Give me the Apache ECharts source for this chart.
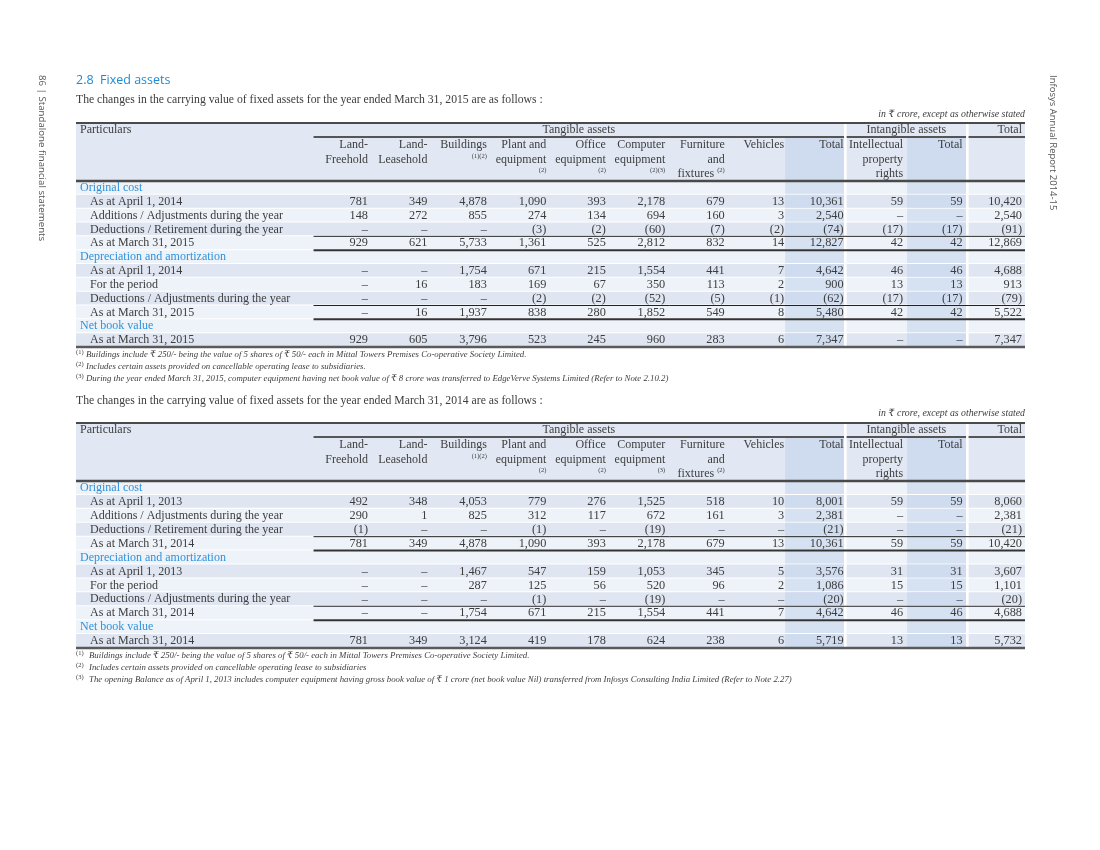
<!DOCTYPE html>
<html><head><meta charset="utf-8">
<script src="https://cdn.jsdelivr.net/npm/echarts@6.0.0/dist/echarts.min.js"></script>
<style>html,body{margin:0;padding:0;background:#fff}#c{width:1100px;height:850px}</style>
</head><body><div id="c"></div>
<script>
// ---------------- DATA ----------------
const colKeys = ['landFree','landLease','buildings','plant','office','computer','furniture','vehicles','tangTotal','ipr','intTotal','grandTotal'];
const groupLabels = ['Tangible assets','Intangible assets','Total'];
const groupSpans = [[0,8],[9,10],[11,11]];
const headers2015 = ['Land-\nFreehold','Land-\nLeasehold','Buildings\n{sup|(1)(2)}','Plant and\nequipment\n{sup|(2)}','Office\nequipment\n{sup|(2)}','Computer\nequipment\n{sup|(2)(3)}','Furniture\nand\nfixtures {sup|(2)}','Vehicles','Total','Intellectual\nproperty\nrights','Total',''];
const headers2014 = ['Land-\nFreehold','Land-\nLeasehold','Buildings\n{sup|(1)(2)}','Plant and\nequipment\n{sup|(2)}','Office\nequipment\n{sup|(2)}','Computer\nequipment\n{sup|(3)}','Furniture\nand\nfixtures {sup|(2)}','Vehicles','Total','Intellectual\nproperty\nrights','Total',''];
const rowKinds = ['sec','item','item','item','total','sec','item','item','item','total','sec','item'];
const rowLabels2015 = ['Original cost','As at April 1, 2014','Additions / Adjustments during the year','Deductions / Retirement during the year','As at March 31, 2015','Depreciation and amortization','As at April 1, 2014','For the period','Deductions / Adjustments during the year','As at March 31, 2015','Net book value','As at March 31, 2015'];
const rowLabels2014 = ['Original cost','As at April 1, 2013','Additions / Adjustments during the year','Deductions / Retirement during the year','As at March 31, 2014','Depreciation and amortization','As at April 1, 2013','For the period','Deductions / Adjustments during the year','As at March 31, 2014','Net book value','As at March 31, 2014'];

// FY 2015 (null = "–", negative = shown in brackets)
const costOpen2015   = [781, 349, 4878, 1090, 393, 2178, 679, 13, 10361, 59, 59, 10420];
const costAdd2015    = [148, 272, 855, 274, 134, 694, 160, 3, 2540, null, null, 2540];
const costDed2015    = [null, null, null, -3, -2, -60, -7, -2, -74, -17, -17, -91];
const costClose2015  = [929, 621, 5733, 1361, 525, 2812, 832, 14, 12827, 42, 42, 12869];
const depOpen2015    = [null, null, 1754, 671, 215, 1554, 441, 7, 4642, 46, 46, 4688];
const depPeriod2015  = [null, 16, 183, 169, 67, 350, 113, 2, 900, 13, 13, 913];
const depDed2015     = [null, null, null, -2, -2, -52, -5, -1, -62, -17, -17, -79];
const depClose2015   = [null, 16, 1937, 838, 280, 1852, 549, 8, 5480, 42, 42, 5522];
const netBook2015    = [929, 605, 3796, 523, 245, 960, 283, 6, 7347, null, null, 7347];

// FY 2014
const costOpen2014   = [492, 348, 4053, 779, 276, 1525, 518, 10, 8001, 59, 59, 8060];
const costAdd2014    = [290, 1, 825, 312, 117, 672, 161, 3, 2381, null, null, 2381];
const costDed2014    = [-1, null, null, -1, null, -19, null, null, -21, null, null, -21];
const costClose2014  = [781, 349, 4878, 1090, 393, 2178, 679, 13, 10361, 59, 59, 10420];
const depOpen2014    = [null, null, 1467, 547, 159, 1053, 345, 5, 3576, 31, 31, 3607];
const depPeriod2014  = [null, null, 287, 125, 56, 520, 96, 2, 1086, 15, 15, 1101];
const depDed2014     = [null, null, null, -1, null, -19, null, null, -20, null, null, -20];
const depClose2014   = [null, null, 1754, 671, 215, 1554, 441, 7, 4642, 46, 46, 4688];
const netBook2014    = [781, 349, 3124, 419, 178, 624, 238, 6, 5719, 13, 13, 5732];

const values2015 = [null, costOpen2015, costAdd2015, costDed2015, costClose2015, null, depOpen2015, depPeriod2015, depDed2015, depClose2015, null, netBook2015];
const values2014 = [null, costOpen2014, costAdd2014, costDed2014, costClose2014, null, depOpen2014, depPeriod2014, depDed2014, depClose2014, null, netBook2014];

// ---------------- STYLE / LAYOUT ----------------
const SERIF = '"Liberation Serif", "DejaVu Serif", serif';
const SANS = '"Open Sans", "Noto Sans", sans-serif';
const TXT = '#3d3d3d';
const BLUE = '#2e93da';
const SHADE = ['L','D','L','D','L','L','D','L','D','L','L','D'];
const COL = {hdr:'#e2e8f3', L:'#eef2f9', D:'#dfe6f2', totL:'#d6e1f1', totD:'#cfdbee'};
const tablesLayout = [{top:181, height:166}, {top:481, height:167}];
const tables = [
  {headers: headers2015, rows: rowLabels2015, values: values2015},
  {headers: headers2014, rows: rowLabels2014, values: values2014}
];
const fmt = v => v == null ? '\u2013' : (v < 0 ? '(' + Math.abs(v).toLocaleString('en-US') + ')' : v.toLocaleString('en-US'));

function geom(api, params) {
  const c0 = api.coord([0, 0]);
  const step = api.coord([1, 0])[0] - c0[0];
  const h = api.size([0, 1])[1];
  const tx = c => c0[0] + c * step;
  const cs = params.coordSys;
  return {tx, h, L: tx(0) - 294, R: tx(11) + 1, T: cs.y, B: cs.y + cs.height};
}

function bgRender(params, api) {
  const g = geom(api, params);
  const tx = g.tx;
  const r = api.value(1);
  const yc = api.coord([0, r])[1];
  const y0 = yc - g.h / 2, hh = g.h - 1;
  const dark = SHADE[r] === 'D';
  return {type:'group', children:[
    {type:'rect', shape:{x:g.L, y:y0, width:g.R - g.L, height:hh}, style:{fill: dark ? COL.D : COL.L}},
    {type:'rect', shape:{x:tx(7) - 1, y:y0, width:tx(8) - tx(7) - 0.6, height:hh}, style:{fill: dark ? COL.totD : COL.totL}},
    {type:'rect', shape:{x:tx(9) + 2, y:y0, width:tx(10) - tx(9) - 0.5, height:hh}, style:{fill: dark ? COL.totD : COL.totL}},
    {type:'rect', shape:{x:tx(8) - 1.6, y:y0 - 1, width:2.6, height:g.h + 1}, style:{fill:'#fff'}},
    {type:'rect', shape:{x:tx(10) + 1.5, y:y0 - 1, width:2.6, height:g.h + 1}, style:{fill:'#fff'}}
  ]};
}

function headerBgRender(params, api) {
  const g = geom(api, params);
  const tx = g.tx, T = g.T;
  return {type:'group', children:[
    {type:'rect', shape:{x:g.L, y:T - 58, width:g.R - g.L, height:58}, style:{fill: COL.hdr}},
    {type:'rect', shape:{x:tx(7) - 1, y:T - 44, width:tx(8) - tx(7) - 0.6, height:44}, style:{fill: COL.totD}},
    {type:'rect', shape:{x:tx(9) + 2, y:T - 44, width:tx(10) - tx(9) - 0.5, height:44}, style:{fill: COL.totD}},
    {type:'rect', shape:{x:tx(8) - 1.6, y:T - 58, width:2.6, height:58}, style:{fill:'#fff'}},
    {type:'rect', shape:{x:tx(10) + 1.5, y:T - 58, width:2.6, height:58}, style:{fill:'#fff'}}
  ]};
}

function frameRender(params, api) {
  const g = geom(api, params);
  const tx = g.tx, T = g.T, B = g.B, h = g.h;
  const line = (x1, y, x2, w, c) => ({type:'line', shape:{x1, y1:y, x2, y2:y}, style:{stroke:c, lineWidth:w}});
  const ch = [
    line(g.L, T - 58, g.R, 2, '#4a4a4a'),
    line(g.L, T, g.R, 2.5, '#4a4a4a'),
    line(g.L, B, g.R, 2.5, '#5a5a5a'),
    {type:'text', x:g.L + 4, y:T - 51, style:{text:'Particulars', fontFamily:SERIF, fontSize:12, fill:TXT, align:'left', verticalAlign:'middle'}}
  ];
  const spans = [[tx(-1) + 3, tx(8) - 1.6], [tx(8) + 1, tx(10) + 1.5], [tx(10) + 4, g.R]];
  groupSpans.forEach((sp, i) => {
    const [x1, x2] = spans[i];
    ch.push(line(x1, T - 44, x2, 2, '#555'));
    const isLast = i === groupSpans.length - 1;
    ch.push({type:'text', x: isLast ? tx(11) - 2 : (x1 + x2) / 2, y:T - 51,
      style:{text:groupLabels[i], fontFamily:SERIF, fontSize:12, fill:TXT, align: isLast ? 'right' : 'center', verticalAlign:'middle'}});
  });
  rowKinds.forEach((k, r) => {
    if (k !== 'total') return;
    const yc = api.coord([0, r])[1];
    ch.push(line(tx(-1) + 3, yc - h / 2, g.R, 1, '#222'));
    ch.push(line(tx(-1) + 3, yc + h / 2, g.R, 2, '#333'));
  });
  return {type:'group', children: ch};
}

function cellRender(texts) {
  return function(params, api) {
    const p = api.coord([api.value(0), api.value(1)]);
    return {type:'text', x:p[0] - 2, y:p[1], style:{text:texts[params.dataIndex], fontFamily:SERIF, fontSize:12.3, fill:TXT, align:'right', verticalAlign:'middle'}};
  };
}

const grids = [], xAxes = [], yAxes = [], series = [];
tables.forEach((t, ti) => {
  const lay = tablesLayout[ti];
  grids.push({left:370, right:76, top:lay.top, height:lay.height, outerBoundsMode:'none', containLabel:false});
  xAxes.push({type:'category', gridIndex:ti, position:'top', data:colKeys, boundaryGap:false, z:10,
    axisLine:{show:false}, axisTick:{show:false}, splitLine:{show:false},
    axisLabel:{interval:0, align:'right', verticalAlign:'top', margin:43, padding:[0,2,0,0],
      fontFamily:SERIF, fontSize:12, color:TXT, lineHeight:14.5,
      formatter:(v, i) => t.headers[i],
      rich:{sup:{fontSize:6.5, fontFamily:SERIF, color:TXT, lineHeight:14.5, verticalAlign:'top'}}}});
  yAxes.push({type:'category', gridIndex:ti, inverse:true, data:rowKinds.map((k, i) => 'r' + i), z:10,
    axisLine:{show:false}, axisTick:{show:false}, splitLine:{show:false},
    axisLabel:{interval:0, align:'left', margin:290, fontFamily:SERIF, fontSize:12, color:TXT,
      formatter:(v, i) => (rowKinds[i] === 'sec' ? '{sec|' : '{itm|') + t.rows[i] + '}',
      rich:{sec:{color:BLUE, fontFamily:SERIF, fontSize:12}, itm:{color:TXT, fontFamily:SERIF, fontSize:12, padding:[0,0,0,10]}}}});
  series.push({type:'custom', name:'bands' + ti, xAxisIndex:ti, yAxisIndex:ti, z:1, silent:true,
    renderItem:bgRender, data:rowKinds.map((k, r) => [0, r])});
  series.push({type:'custom', name:'headerBg' + ti, xAxisIndex:ti, yAxisIndex:ti, z:1, silent:true,
    renderItem:headerBgRender, data:[[0, 0]]});
  series.push({type:'custom', name:'frame' + ti, xAxisIndex:ti, yAxisIndex:ti, z:3, silent:true,
    renderItem:frameRender, data:[[0, 0]]});
  const cells = [], texts = [];
  t.values.forEach((row, r) => {
    if (!row) return;
    row.forEach((v, c) => { cells.push([c, r]); texts.push(fmt(v)); });
  });
  series.push({type:'custom', name:'cells' + ti, xAxisIndex:ti, yAxisIndex:ti, z:5, silent:true,
    renderItem:cellRender(texts), data:cells});
});

const fn = (x, y, mark, text) => [
  {type:'text', x:76, y:y - 3, style:{text:mark, fontFamily:SERIF, fontSize:6.5, fill:TXT, align:'left', verticalAlign:'middle'}},
  {type:'text', x:x, y:y, style:{text:text, fontFamily:SERIF, fontStyle:'italic', fontSize:8.8, fill:TXT, align:'left', verticalAlign:'middle'}}
];
const graphic = [
  {type:'text', x:76, y:80, style:{text:'2.8  Fixed assets', fontFamily:SANS, fontSize:12.5, fill:'#1d8bd5', align:'left', verticalAlign:'middle'}},
  {type:'text', x:76, y:100, style:{text:'The changes in the carrying value of fixed assets for the year ended March 31, 2015 are as follows :', fontFamily:SERIF, fontSize:11.7, fill:TXT, align:'left', verticalAlign:'middle'}},
  {type:'text', x:1025, y:114, style:{text:'in \u20b9 crore, except as otherwise stated', fontFamily:SERIF, fontStyle:'italic', fontSize:9.8, fill:TXT, align:'right', verticalAlign:'middle'}},
  ...fn(86, 355, '(1)', 'Buildings include \u20b9 250/- being the value of 5 shares of \u20b9 50/- each in Mittal Towers Premises Co-operative Society Limited.'),
  ...fn(86, 367, '(2)', 'Includes certain assets provided on cancellable operating lease to subsidiaries.'),
  ...fn(86, 379, '(3)', 'During the year ended March 31, 2015, computer equipment having net book value of \u20b9 8 crore was transferred to EdgeVerve Systems Limited (Refer to Note 2.10.2)'),
  {type:'text', x:76, y:401, style:{text:'The changes in the carrying value of fixed assets for the year ended March 31, 2014 are as follows :', fontFamily:SERIF, fontSize:11.7, fill:TXT, align:'left', verticalAlign:'middle'}},
  {type:'text', x:1025, y:413, style:{text:'in \u20b9 crore, except as otherwise stated', fontFamily:SERIF, fontStyle:'italic', fontSize:9.8, fill:TXT, align:'right', verticalAlign:'middle'}},
  ...fn(89, 656, '(1)', 'Buildings include \u20b9 250/- being the value of 5 shares of \u20b9 50/- each in Mittal Towers Premises Co-operative Society Limited.'),
  ...fn(89, 668, '(2)', 'Includes certain assets provided on cancellable operating lease to subsidiaries'),
  ...fn(89, 680, '(3)', 'The opening Balance as of April 1, 2013 includes computer equipment having gross book value of \u20b9 1 crore (net book value Nil) transferred from Infosys Consulting India Limited (Refer to Note 2.27)'),
  {type:'text', x:42, y:75, rotation:-Math.PI / 2, style:{text:'86 | Standalone financial statements', fontFamily:SANS, fontSize:9.7, fill:'#555', align:'left', verticalAlign:'middle'}},
  {type:'text', x:1053, y:75, rotation:-Math.PI / 2, style:{text:'Infosys Annual Report 2014-15', fontFamily:SANS, fontSize:9.5, fill:'#555', align:'left', verticalAlign:'middle'}}
];

const chart = echarts.init(document.getElementById('c'), null, {renderer:'canvas', width:1100, height:850});
chart.setOption({animation:false, backgroundColor:'#fff', grid:grids, xAxis:xAxes, yAxis:yAxes, series:series, graphic:graphic});
</script></body></html>
